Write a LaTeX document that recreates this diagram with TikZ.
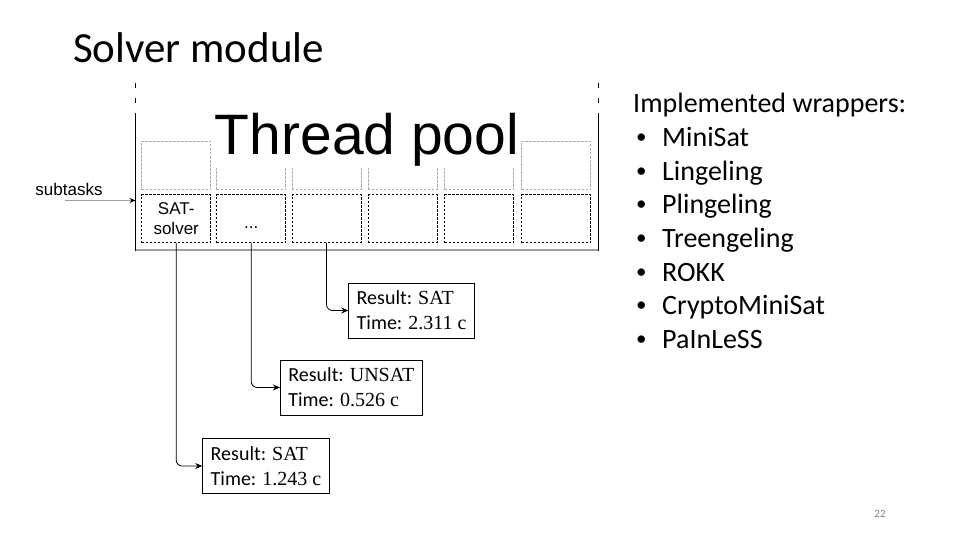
\documentclass[tikz,border=0pt]{standalone}
\usepackage{fontspec}
\setmainfont{Carlito}
\newfontfamily\arialf{Liberation Sans}
\newfontfamily\valf{Liberation Serif}
\usetikzlibrary{arrows.meta,positioning,calc}
\definecolor{pc}{RGB}{160,160,160}
\definecolor{gc}{RGB}{170,170,170}
\newcommand\bul{\hspace*{3pt}\makebox[26pt][l]{\raisebox{3pt}{\fontsize{21}{21}\selectfont•}}}
\tikzset{cell/.style={draw,dash pattern=on 2.4pt off 1.6pt,line width=.9pt,minimum width=69pt,minimum height=48pt,inner sep=0pt},
 gcell/.style={cell,draw=gc},
 res/.style={draw,line width=.8pt,align=left,inner xsep=8pt,inner ysep=8pt,anchor=west,font=\fontsize{20}{25}\selectfont},
 wire/.style={line width=1pt},
 arr/.style={-{Stealth[length=7pt,width=6pt]},line width=.8pt,rounded corners=6pt},
 sans/.style={font=\arialf\fontsize{17}{19.5}\selectfont}}

\begin{document}
\begin{tikzpicture}[x=1pt,y=-1pt]
\useasboundingbox (0,0) rectangle (960,540);
\node[anchor=base west,inner sep=0pt,font=\fontsize{43}{50}\selectfont] (title) at (73,63) {Solver module};
% thread pool frame
\draw[wire,dash pattern=on 5pt off 10pt] (135.5,83)--(135.5,113);
\draw[wire,dash pattern=on 5pt off 10pt] (598.3,83)--(598.3,113);
\draw[wire] (135.5,113)--(135.5,251);\draw[wire] (598.3,113)--(598.3,251);
\draw[pc,line width=2pt] (135.5,250)--(598.3,250);
\foreach \i/\x in {1/176.2,2/251.2,3/326.5,4/402.5,5/479.2,6/556.2}{
 \node[gcell] (t\i) at (\x,165.5) {};
 \node[cell] (b\i) at (\x,218.7) {};}
\node[fill=white,inner sep=1pt,anchor=base,font=\arialf\fontsize{57}{60}\selectfont] (pool) at (367,155) {Thread pool};
\node[sans,align=center] (sat) at (b1) {SAT-\\solver};
\node[sans] (dots) at ([yshift=-9pt]b2.center) {...};
% subtasks
\node[sans] (sub) at (69,189) {subtasks};
\coordinate (src) at (65,200.5);\coordinate (in) at (135.5,200.5);
\draw[pc,line width=1pt,-{Stealth[black,length=6pt,width=5pt]}] (src)--(in);
% results
\node[res] (r1) at (348.3,310.5) {Result: {\valf SAT}\\Time: {\valf 2.311 c}};
\node[res] (r2) at (280,387.5) {Result: {\valf UNSAT}\\Time: {\valf 0.526 c}};
\node[res] (r3) at (202.3,466) {Result: {\valf SAT}\\Time: {\valf 1.243 c}};
\draw[arr] (b3.south)|-(r1.west);
\draw[arr] (b2.south)|-(r2.west);
\draw[arr] (b1.south)|-(r3.west);
% wrappers
\node[anchor=north west,inner sep=0pt,align=left,font=\fontsize{28}{33.7}\selectfont] (wr) at (633,93) {Implemented wrappers:\\
\bul MiniSat\\
\bul Lingeling\\
\bul Plingeling\\
\bul Treengeling\\
\bul ROKK\\
\bul CryptoMiniSat\\
\bul PaInLeSS};
\node[gray,font=\fontsize{11}{13}\selectfont] (pg) at (880,514) {22};
\end{tikzpicture}
\end{document}
